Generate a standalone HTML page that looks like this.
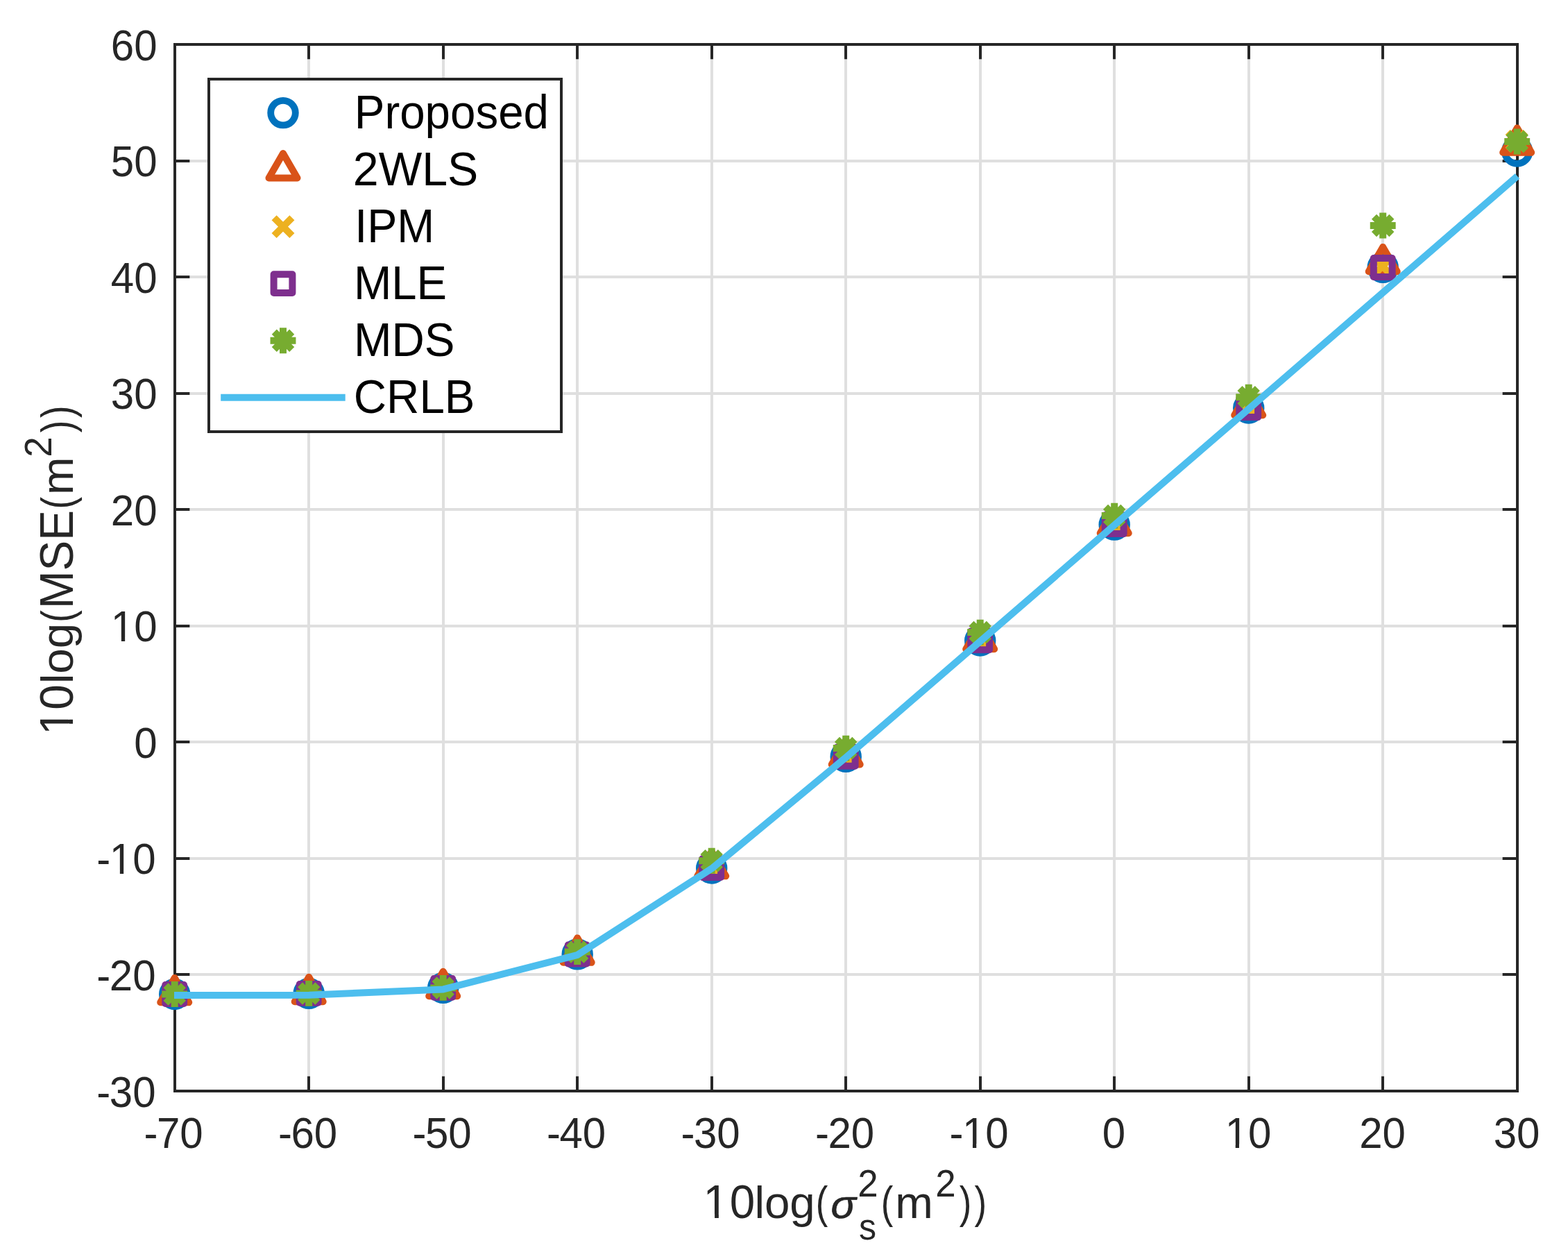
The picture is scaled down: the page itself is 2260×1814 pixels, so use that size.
<!DOCTYPE html>
<html lang="en"><head><meta charset="utf-8"><title>10log(MSE) versus 10log(noise variance)</title>
<style>
html,body{margin:0;padding:0;background:#fff;}
body{width:2260px;height:1814px;}
svg{display:block;}
text{font-family:"Liberation Sans",sans-serif;}
.tk{font-size:60px;fill:#262626;}
.lb{font-size:65.5px;fill:#262626;}
.sp{font-size:52.8px;fill:#262626;}
.lg{font-size:65.5px;fill:#000;}
</style></head><body>
<svg width="2260" height="1814" viewBox="0 0 2260 1814">
<defs><clipPath id="c0"><path d="M-1200.00 -120.00H1200.00V-5.48H-1200.00ZM-51.65 -7.48H-46.35V3.00H-51.65ZM-33.37 -7.48H0.00V60.00H-33.37Z"/></clipPath><clipPath id="c1"><path d="M-1200.00 -120.00H1200.00V-5.48H-1200.00ZM-85.22 -7.48H-65.24V60.00H-85.22ZM-51.65 -7.48H-46.35V3.00H-51.65ZM-33.37 -7.48H0.00V60.00H-33.37Z"/></clipPath><clipPath id="c2"><path d="M-1200.00 -120.00H1200.00V-5.48H-1200.00ZM-42.61 -7.48H-22.63V60.00H-42.61ZM-9.04 -7.48H-3.74V3.00H-9.04ZM9.24 -7.48H42.61V60.00H9.24Z"/></clipPath><clipPath id="c3"><path d="M-1200.00 -120.00H1200.00V-5.48H-1200.00ZM-18.28 -7.48H-12.98V3.00H-18.28ZM0.00 -7.48H33.37V60.00H0.00Z"/></clipPath><clipPath id="c4"><path d="M-1310.00 -131.00H1310.00V-5.89H-1310.00ZM14.87 -7.89H20.66V3.28H14.87ZM36.43 -7.89H72.86V65.50H36.43Z"/></clipPath><clipPath id="c5"><path d="M-1310.00 -131.00H1310.00V-5.89H-1310.00ZM16.47 -7.89H22.26V3.28H16.47ZM36.43 -7.89H72.86V65.50H36.43Z"/></clipPath></defs>
<rect x="0" y="0" width="2260" height="1814" fill="#fff"/>
<g stroke="#dfdfdf" stroke-width="4" fill="none">
<path d="M445 64V1572"/>
<path d="M639 64V1572"/>
<path d="M832 64V1572"/>
<path d="M1026 64V1572"/>
<path d="M1219 64V1572"/>
<path d="M1413 64V1572"/>
<path d="M1606 64V1572"/>
<path d="M1800 64V1572"/>
<path d="M1993 64V1572"/>
<path d="M252 232H2187"/>
<path d="M252 399H2187"/>
<path d="M252 567H2187"/>
<path d="M252 734H2187"/>
<path d="M252 902H2187"/>
<path d="M252 1069H2187"/>
<path d="M252 1237H2187"/>
<path d="M252 1404H2187"/>
</g>
<g stroke="#262626" stroke-width="4" fill="none">
<path d="M445 1572v-21.35M445 64v21.35"/>
<path d="M639 1572v-21.35M639 64v21.35"/>
<path d="M832 1572v-21.35M832 64v21.35"/>
<path d="M1026 1572v-21.35M1026 64v21.35"/>
<path d="M1219 1572v-21.35M1219 64v21.35"/>
<path d="M1413 1572v-21.35M1413 64v21.35"/>
<path d="M1606 1572v-21.35M1606 64v21.35"/>
<path d="M1800 1572v-21.35M1800 64v21.35"/>
<path d="M1993 1572v-21.35M1993 64v21.35"/>
<path d="M252 232h21.35M2187 232h-21.35"/>
<path d="M252 399h21.35M2187 399h-21.35"/>
<path d="M252 567h21.35M2187 567h-21.35"/>
<path d="M252 734h21.35M2187 734h-21.35"/>
<path d="M252 902h21.35M2187 902h-21.35"/>
<path d="M252 1069h21.35M2187 1069h-21.35"/>
<path d="M252 1237h21.35M2187 1237h-21.35"/>
<path d="M252 1404h21.35M2187 1404h-21.35"/>
<rect x="252" y="64" width="1935" height="1508"/>
</g>
<g>
<text class="tk" transform="translate(226.50 86.60) scale(1.0 1.04)" text-anchor="end">60</text>
<text class="tk" transform="translate(226.50 254.16) scale(1.0 1.04)" text-anchor="end">50</text>
<text class="tk" transform="translate(226.50 421.71) scale(1.0 1.04)" text-anchor="end">40</text>
<text class="tk" transform="translate(226.50 589.27) scale(1.0 1.04)" text-anchor="end">30</text>
<text class="tk" transform="translate(226.50 756.82) scale(1.0 1.04)" text-anchor="end">20</text>
<text class="tk" transform="translate(226.50 924.38) scale(1.0 1.04)" text-anchor="end" clip-path="url(#c0)">10</text>
<text class="tk" transform="translate(226.50 1091.93) scale(1.0 1.04)" text-anchor="end">0</text>
<text class="tk" transform="translate(224.50 1259.49) scale(1.0 1.04)" text-anchor="end" dx="0 -1.5 0" clip-path="url(#c1)">-10</text>
<text class="tk" transform="translate(224.50 1427.04) scale(1.0 1.04)" text-anchor="end" dx="0 -1.5 0">-20</text>
<text class="tk" transform="translate(224.50 1594.60) scale(1.0 1.04)" text-anchor="end" dx="0 -1.5 0">-30</text>
<text class="tk" transform="translate(250.00 1654.00) scale(1.0 1.04)" text-anchor="middle" dx="0 -1.5 0">-70</text>
<text class="tk" transform="translate(443.50 1654.00) scale(1.0 1.04)" text-anchor="middle" dx="0 -1.5 0">-60</text>
<text class="tk" transform="translate(637.00 1654.00) scale(1.0 1.04)" text-anchor="middle" dx="0 -1.5 0">-50</text>
<text class="tk" transform="translate(830.50 1654.00) scale(1.0 1.04)" text-anchor="middle" dx="0 -1.5 0">-40</text>
<text class="tk" transform="translate(1024.00 1654.00) scale(1.0 1.04)" text-anchor="middle" dx="0 -1.5 0">-30</text>
<text class="tk" transform="translate(1217.50 1654.00) scale(1.0 1.04)" text-anchor="middle" dx="0 -1.5 0">-20</text>
<text class="tk" transform="translate(1411.00 1654.00) scale(1.0 1.04)" text-anchor="middle" dx="0 -1.5 0" clip-path="url(#c2)">-10</text>
<text class="tk" transform="translate(1605.50 1654.00) scale(1.0 1.04)" text-anchor="middle">0</text>
<text class="tk" transform="translate(1799.00 1654.00) scale(1.0 1.04)" text-anchor="middle" clip-path="url(#c3)">10</text>
<text class="tk" transform="translate(1992.50 1654.00) scale(1.0 1.04)" text-anchor="middle">20</text>
<text class="tk" transform="translate(2186.00 1654.00) scale(1.0 1.04)" text-anchor="middle">30</text>
</g>
<g>
<text class="lb" transform="translate(1015.21 1755.00) scale(1.0 1.04)" dx="-1.6 1.6" clip-path="url(#c4)">10</text>
<text class="lb" transform="translate(1087.39 1755.00) scale(1.0 1.0)">log</text>
<text class="lb" transform="translate(1175.74 1755.00) scale(0.805 1.0)">(</text>
<text class="lb" transform="translate(1197.60 1755.00) scale(0.92 0.875)" font-style="italic" stroke="#262626" stroke-width="0.8" stroke-linejoin="round">σ</text>
<text class="sp" transform="translate(1236.34 1723.70) scale(1.0 1.04)">2</text>
<text class="sp" transform="translate(1237.90 1786.30) scale(0.95 1.0)">s</text>
<text class="lb" transform="translate(1269.64 1755.00) scale(0.805 1.0)">(</text>
<text class="lb" transform="translate(1290.35 1755.00) scale(1.0 1.0)">m</text>
<text class="sp" transform="translate(1348.24 1723.70) scale(1.0 1.04)">2</text>
<text class="lb" transform="translate(1382.80 1755.00) scale(0.805 1.0)" dx="0 5.2">))</text>
</g>
<g>
<text class="lb" transform="translate(104.85 1059.10) rotate(-90) scale(1.0 1.04)" clip-path="url(#c5)">10</text>
<text class="lb" transform="translate(104.85 985.30) rotate(-90) scale(1.0 1.0)">log</text>
<text class="lb" transform="translate(104.85 896.81) rotate(-90) scale(0.805 1.0)">(</text>
<text class="lb" transform="translate(104.85 877.00) rotate(-90) scale(1.0 1.05)">MSE</text>
<text class="lb" transform="translate(104.85 733.41) rotate(-90) scale(0.805 1.0)">(</text>
<text class="lb" transform="translate(104.85 713.05) rotate(-90) scale(1.0 1.0)">m</text>
<text class="sp" transform="translate(73.85 658.70) rotate(-90) scale(1.0 1.04)">2</text>
<text class="lb" transform="translate(104.85 623.35) rotate(-90) scale(0.805 1.0)" dx="0 4.6">))</text>
</g>
<g>
<circle cx="251.70" cy="1432.50" r="17.8" fill="none" stroke="#0072bd" stroke-width="9.8"/>
<circle cx="445.20" cy="1431.40" r="17.8" fill="none" stroke="#0072bd" stroke-width="9.8"/>
<circle cx="638.70" cy="1423.40" r="17.8" fill="none" stroke="#0072bd" stroke-width="9.8"/>
<circle cx="832.20" cy="1374.90" r="17.8" fill="none" stroke="#0072bd" stroke-width="9.8"/>
<circle cx="1025.70" cy="1251.00" r="17.8" fill="none" stroke="#0072bd" stroke-width="9.8"/>
<circle cx="1219.20" cy="1090.40" r="17.8" fill="none" stroke="#0072bd" stroke-width="9.8"/>
<circle cx="1412.70" cy="923.00" r="17.8" fill="none" stroke="#0072bd" stroke-width="9.8"/>
<circle cx="1606.20" cy="756.10" r="17.8" fill="none" stroke="#0072bd" stroke-width="9.8"/>
<circle cx="1799.70" cy="588.00" r="17.8" fill="none" stroke="#0072bd" stroke-width="9.8"/>
<circle cx="1993.20" cy="385.40" r="17.8" fill="none" stroke="#0072bd" stroke-width="9.8"/>
<circle cx="2186.70" cy="218.00" r="17.8" fill="none" stroke="#0072bd" stroke-width="9.8"/>
</g><g>
<path d="M251.70 1408.90L272.20 1444.30L231.20 1444.30Z" fill="none" stroke="#d95319" stroke-width="10" stroke-linejoin="round"/>
<path d="M445.20 1407.80L465.70 1443.20L424.70 1443.20Z" fill="none" stroke="#d95319" stroke-width="10" stroke-linejoin="round"/>
<path d="M638.70 1399.80L659.20 1435.20L618.20 1435.20Z" fill="none" stroke="#d95319" stroke-width="10" stroke-linejoin="round"/>
<path d="M832.20 1351.40L852.70 1386.80L811.70 1386.80Z" fill="none" stroke="#d95319" stroke-width="10" stroke-linejoin="round"/>
<path d="M1025.70 1226.90L1046.20 1262.30L1005.20 1262.30Z" fill="none" stroke="#d95319" stroke-width="10" stroke-linejoin="round"/>
<path d="M1219.20 1066.00L1239.70 1101.40L1198.70 1101.40Z" fill="none" stroke="#d95319" stroke-width="10" stroke-linejoin="round"/>
<path d="M1412.70 899.80L1433.20 935.20L1392.20 935.20Z" fill="none" stroke="#d95319" stroke-width="10" stroke-linejoin="round"/>
<path d="M1606.20 732.80L1626.70 768.20L1585.70 768.20Z" fill="none" stroke="#d95319" stroke-width="10" stroke-linejoin="round"/>
<path d="M1799.70 562.80L1820.20 598.20L1779.20 598.20Z" fill="none" stroke="#d95319" stroke-width="10" stroke-linejoin="round"/>
<path d="M1993.20 355.90L2013.70 391.30L1972.70 391.30Z" fill="none" stroke="#d95319" stroke-width="10" stroke-linejoin="round"/>
<path d="M2186.70 184.40L2207.20 219.80L2166.20 219.80Z" fill="none" stroke="#d95319" stroke-width="10" stroke-linejoin="round"/>
</g><g>
<path d="M238.20 1419.60L264.00 1445.40M238.20 1445.40L264.00 1419.60" fill="none" stroke="#edb120" stroke-width="10"/>
<path d="M431.70 1418.50L457.50 1444.30M431.70 1444.30L457.50 1418.50" fill="none" stroke="#edb120" stroke-width="10"/>
<path d="M625.20 1410.50L651.00 1436.30M625.20 1436.30L651.00 1410.50" fill="none" stroke="#edb120" stroke-width="10"/>
<path d="M818.70 1361.80L844.50 1387.60M818.70 1387.60L844.50 1361.80" fill="none" stroke="#edb120" stroke-width="10"/>
<path d="M1012.20 1237.70L1038.00 1263.50M1012.20 1263.50L1038.00 1237.70" fill="none" stroke="#edb120" stroke-width="10"/>
<path d="M1205.70 1076.90L1231.50 1102.70M1205.70 1102.70L1231.50 1076.90" fill="none" stroke="#edb120" stroke-width="10"/>
<path d="M1399.20 910.10L1425.00 935.90M1399.20 935.90L1425.00 910.10" fill="none" stroke="#edb120" stroke-width="10"/>
<path d="M1592.70 743.90L1618.50 769.70M1592.70 769.70L1618.50 743.90" fill="none" stroke="#edb120" stroke-width="10"/>
<path d="M1786.20 574.80L1812.00 600.60M1786.20 600.60L1812.00 574.80" fill="none" stroke="#edb120" stroke-width="10"/>
<path d="M1979.70 370.70L2005.50 396.50M1979.70 396.50L2005.50 370.70" fill="none" stroke="#edb120" stroke-width="10"/>
<path d="M2173.20 190.40L2199.00 216.20M2173.20 216.20L2199.00 190.40" fill="none" stroke="#edb120" stroke-width="10"/>
</g><g>
<path d="M238.30 1419.10H265.10V1445.90H238.30Z" fill="none" stroke="#7e2f8e" stroke-width="10" stroke-linejoin="round"/>
<path d="M431.80 1418.00H458.60V1444.80H431.80Z" fill="none" stroke="#7e2f8e" stroke-width="10" stroke-linejoin="round"/>
<path d="M625.30 1410.00H652.10V1436.80H625.30Z" fill="none" stroke="#7e2f8e" stroke-width="10" stroke-linejoin="round"/>
<path d="M818.80 1361.60H845.60V1388.40H818.80Z" fill="none" stroke="#7e2f8e" stroke-width="10" stroke-linejoin="round"/>
<path d="M1012.30 1237.20H1039.10V1264.00H1012.30Z" fill="none" stroke="#7e2f8e" stroke-width="10" stroke-linejoin="round"/>
<path d="M1205.80 1076.90H1232.60V1103.70H1205.80Z" fill="none" stroke="#7e2f8e" stroke-width="10" stroke-linejoin="round"/>
<path d="M1399.30 909.40H1426.10V936.20H1399.30Z" fill="none" stroke="#7e2f8e" stroke-width="10" stroke-linejoin="round"/>
<path d="M1592.80 742.30H1619.60V769.10H1592.80Z" fill="none" stroke="#7e2f8e" stroke-width="10" stroke-linejoin="round"/>
<path d="M1786.30 574.30H1813.10V601.10H1786.30Z" fill="none" stroke="#7e2f8e" stroke-width="10" stroke-linejoin="round"/>
<path d="M1979.80 372.10H2006.60V398.90H1979.80Z" fill="none" stroke="#7e2f8e" stroke-width="10" stroke-linejoin="round"/>
</g><g>
<path d="M251.70 1414.05V1450.95M233.25 1432.50H270.15M239.00 1419.80L264.40 1445.20M239.00 1445.20L264.40 1419.80" fill="none" stroke="#77ac30" stroke-width="10"/>
<path d="M445.20 1412.95V1449.85M426.75 1431.40H463.65M432.50 1418.70L457.90 1444.10M432.50 1444.10L457.90 1418.70" fill="none" stroke="#77ac30" stroke-width="10"/>
<path d="M638.70 1404.95V1441.85M620.25 1423.40H657.15M626.00 1410.70L651.40 1436.10M626.00 1436.10L651.40 1410.70" fill="none" stroke="#77ac30" stroke-width="10"/>
<path d="M832.20 1353.15V1390.05M813.75 1371.60H850.65M819.50 1358.90L844.90 1384.30M819.50 1384.30L844.90 1358.90" fill="none" stroke="#77ac30" stroke-width="10"/>
<path d="M1025.70 1221.75V1258.65M1007.25 1240.20H1044.15M1013.00 1227.50L1038.40 1252.90M1013.00 1252.90L1038.40 1227.50" fill="none" stroke="#77ac30" stroke-width="10"/>
<path d="M1219.20 1059.65V1096.55M1200.75 1078.10H1237.65M1206.50 1065.40L1231.90 1090.80M1206.50 1090.80L1231.90 1065.40" fill="none" stroke="#77ac30" stroke-width="10"/>
<path d="M1412.70 892.65V929.55M1394.25 911.10H1431.15M1400.00 898.40L1425.40 923.80M1400.00 923.80L1425.40 898.40" fill="none" stroke="#77ac30" stroke-width="10"/>
<path d="M1606.20 724.65V761.55M1587.75 743.10H1624.65M1593.50 730.40L1618.90 755.80M1593.50 755.80L1618.90 730.40" fill="none" stroke="#77ac30" stroke-width="10"/>
<path d="M1799.70 553.75V590.65M1781.25 572.20H1818.15M1787.00 559.50L1812.40 584.90M1787.00 584.90L1812.40 559.50" fill="none" stroke="#77ac30" stroke-width="10"/>
<path d="M1993.20 306.50V343.40M1974.75 324.95H2011.65M1980.50 312.25L2005.90 337.65M1980.50 337.65L2005.90 312.25" fill="none" stroke="#77ac30" stroke-width="10"/>
<path d="M2186.70 185.60V222.50M2168.25 204.05H2205.15M2174.00 191.35L2199.40 216.75M2174.00 216.75L2199.40 191.35" fill="none" stroke="#77ac30" stroke-width="10"/>
</g>
<polyline points="251.00,1434.00 445.50,1433.70 639.00,1425.40 832.50,1375.80 1026.00,1251.30 1219.50,1091.20 1413.00,923.90 1606.50,756.30 1800.00,589.00 1993.50,421.40 2187.00,253.80" fill="none" stroke="#4dbeee" stroke-width="10" stroke-linejoin="round"/>
<rect x="301" y="114" width="508" height="508" fill="#fff" stroke="#262626" stroke-width="4"/>
<circle cx="408.00" cy="162.60" r="17.8" fill="none" stroke="#0072bd" stroke-width="9.8"/>
<path d="M408.00 221.00L428.50 256.40L387.50 256.40Z" fill="none" stroke="#d95319" stroke-width="10" stroke-linejoin="round"/>
<path d="M395.10 313.70L420.90 339.50M395.10 339.50L420.90 313.70" fill="none" stroke="#edb120" stroke-width="10"/>
<path d="M394.60 395.20H421.40V422.00H394.60Z" fill="none" stroke="#7e2f8e" stroke-width="10" stroke-linejoin="round"/>
<path d="M408.00 472.35V509.25M389.55 490.80H426.45M395.30 478.10L420.70 503.50M395.30 503.50L420.70 478.10" fill="none" stroke="#77ac30" stroke-width="10"/>
<path d="M318.2 572.8H497.7" fill="none" stroke="#4dbeee" stroke-width="10"/>
<g>
<text class="lg" transform="translate(510.70 184.85) scale(1.0 1.043)">Proposed</text>
<text class="lg" transform="translate(508.80 266.85) scale(1.012 1.043)">2WLS</text>
<text class="lg" transform="translate(511.20 348.85) scale(0.988 1.043)">IPM</text>
<text class="lg" transform="translate(509.90 430.85) scale(0.996 1.043)">MLE</text>
<text class="lg" transform="translate(509.90 513.05) scale(1.0 1.043)">MDS</text>
<text class="lg" transform="translate(509.80 595.05) scale(1.0 1.043)">CRLB</text>
</g>
</svg></body></html>
